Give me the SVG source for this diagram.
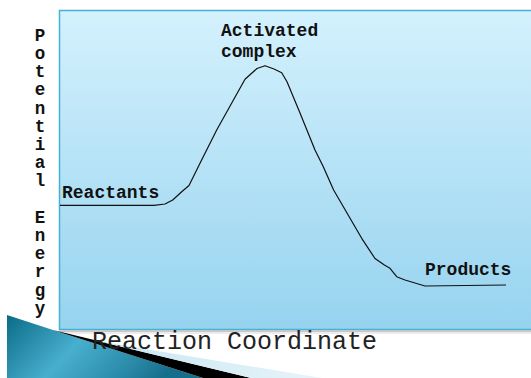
<svg xmlns="http://www.w3.org/2000/svg" width="531" height="378" viewBox="0 0 531 378">
<defs>
<linearGradient id="bg" x1="0" y1="0" x2="0" y2="1">
<stop offset="0" stop-color="#d4f1fd"/>
<stop offset="1" stop-color="#96d3ef"/>
</linearGradient>
<linearGradient id="teal" x1="0" y1="0" x2="1" y2="0.3">
<stop offset="0" stop-color="#0a6b86"/>
<stop offset="0.45" stop-color="#48afcf"/>
<stop offset="0.8" stop-color="#2a8aa8"/>
<stop offset="1" stop-color="#156f8c"/>
</linearGradient>
<linearGradient id="light" x1="0" y1="0" x2="1" y2="0">
<stop offset="0" stop-color="#c9e6f2"/>
<stop offset="1" stop-color="#e6f4fa"/>
</linearGradient>
<style>
.lbl{font-family:"Liberation Mono","Courier New",monospace;font-weight:bold;font-size:18px;fill:#111}
.vert{font-family:"Liberation Mono","Courier New",monospace;font-weight:bold;font-size:17.5px;fill:#111;text-anchor:middle}
.axis{font-family:"Liberation Mono","Courier New",monospace;font-size:25px;fill:#222}
.curve{fill:none;stroke:#111;stroke-width:1.2;stroke-linejoin:round}
</style>
</defs>
<rect width="531" height="378" fill="#ffffff"/>
<g id="plot-area">
<rect x="59.5" y="10.5" width="480" height="319" fill="url(#bg)" stroke="#43b1d8" stroke-width="1.5"/>
<line x1="59.5" y1="331" x2="531" y2="331" stroke="#c8c8c8" stroke-width="2"/>
<line x1="59.5" y1="333" x2="531" y2="333" stroke="#e6e6e6" stroke-width="1.5"/>
</g>
<g id="ribbon">
<polygon points="7,315 53,330 203,378 7,378" fill="url(#teal)"/>
<polygon points="53,330 251,378 203,378" fill="#000"/>
<polygon points="97,341 322,378 251,378" fill="url(#light)"/>
</g>
<g id="connectors">
<path class="curve" d="M60,205.3 L154,205.3 L165,204 L172.7,200 L181.7,191.7 L189,185.5 L200,163.3 L216.7,130 L245,79.3 L257,68.5 L265,65.7 L274,69 L281.7,72.7 L287,81.7 L300,113 L315,150 L323.3,166.7 L333.6,190 L361.7,238.3 L375,258.5 L384.4,265 L390,268.3 L396.7,276.7 L405,280 L425,286 L506,285"/>
</g>
<g id="reactants"><text class="lbl" x="62" y="198">Reactants</text></g>
<g id="activated-complex"><text class="lbl" x="221" y="36">Activated</text><text class="lbl" x="221" y="57">complex</text></g>
<g id="products"><text class="lbl" x="425" y="275">Products</text></g>
<g id="y-axis-label">
<text class="vert">
<tspan x="40" y="40.7">P</tspan><tspan x="40" y="58.9">o</tspan><tspan x="40" y="77.1">t</tspan><tspan x="40" y="95.3">e</tspan><tspan x="40" y="113.5">n</tspan><tspan x="40" y="131.7">t</tspan><tspan x="40" y="149.9">i</tspan><tspan x="40" y="168.1">a</tspan><tspan x="40" y="186.3">l</tspan><tspan x="40" y="222.7">E</tspan><tspan x="40" y="240.9">n</tspan><tspan x="40" y="259.1">e</tspan><tspan x="40" y="277.3">r</tspan><tspan x="40" y="295.5">g</tspan><tspan x="40" y="313.7">y</tspan>
</text>
</g>
<g id="x-axis-label"><text class="axis" x="92" y="349">Reaction Coordinate</text></g>
</svg>
